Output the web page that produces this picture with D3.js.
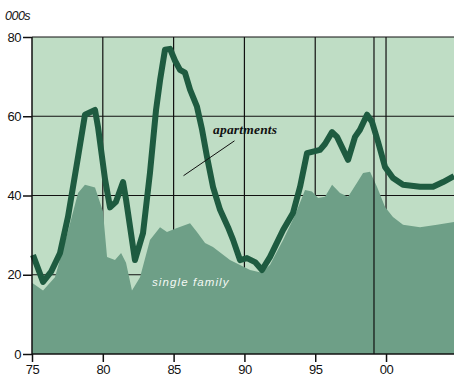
<!DOCTYPE html>
<html>
<head>
<meta charset="utf-8">
<script src="https://cdn.jsdelivr.net/npm/d3@7"></script>
<style>
body { margin: 0; background: #fff; }
text { font-family: "Liberation Sans", Arial, sans-serif; }
</style>
</head>
<body>
<div id="chart"></div>
<script>
var w = 454;
var h = 381;

// years as decimals (75 = 1975, 100 = 2000)
var aptYears = [75.07, 75.78, 76.34, 76.98, 77.54, 78.25, 78.74, 79.45, 79.66, 80.16,
    80.51, 80.93, 81.43, 81.64, 82.27, 82.84, 83.33, 83.76, 84.04, 84.39,
    84.75, 85.1, 85.45, 85.8, 86.16, 86.65, 87.01, 87.36, 87.78, 88.28,
    88.84, 89.2, 89.69, 90.18, 90.75, 91.24, 91.81, 92.73, 93.43, 93.93,
    94.42, 94.77, 95.34, 95.69, 96.19, 96.54, 97.32, 97.81, 98.16, 98.66,
    99.01, 99.44, 99.93, 100.49, 101.2, 102.4, 103.32, 104.03, 104.8];
var apartments = [25, 18.2, 20.7, 25.5, 34.6, 49.7, 60.4, 61.6, 57.3, 44,
    37, 38.4, 43.4, 39, 23.7, 30.5, 45.7, 61.6, 69, 76.8,
    77, 74, 71.7, 71, 66.7, 62.4, 56.6, 49.7, 42.2, 36.4,
    32, 28.8, 23.7, 24.2, 23.2, 21.2, 24.5, 31.3, 35.6, 42.2,
    50.7, 51, 51.5, 53, 56, 54.8, 49, 54.8, 56.6, 60.4,
    58.6, 53.5, 47.2, 44.4, 42.7, 42.2, 42.2, 43.4, 44.9];

var sfYears = [75, 75.78, 76.62, 77.54, 78.25, 78.74, 79.45, 80.01, 80.3, 80.86,
    81.29, 81.64, 82.06, 82.63, 83.33, 84.04, 84.53, 85.24, 86.16, 86.65,
    87.22, 87.78, 88.98, 90.4, 91.24, 91.81, 92.73, 93.57, 94.28, 94.77,
    95.2, 95.69, 96.19, 96.75, 97.32, 97.95, 98.38, 98.87, 99.36, 99.93,
    100.49, 101.2, 102.4, 103.6, 104.8];
var singleFamily = [18, 16, 19.4, 31, 40.6, 42.7, 42, 36, 24.5, 23.7,
    25.5, 23, 16, 19.4, 28.8, 32, 30.8, 31.8, 33, 30.8,
    28, 27, 23.7, 21.2, 20.5, 22.5, 28.8, 35, 41.4, 41,
    39.4, 39.7, 42.7, 40.6, 39.7, 43.2, 45.7, 46, 42.2, 37.1,
    34.6, 32.6, 32, 32.6, 33.3];

var xTicks = [75, 80, 85, 90, 95, 100];
var xTickLabels = ["75", "80", "85", "90", "95", "00"];
var yTicks = [0, 20, 40, 60, 80];

var x = d3.scaleLinear().domain([75, 104.8]).range([32, 454]);
var y = d3.scaleLinear().domain([0, 80]).range([354, 37]);

var svg = d3.select("#chart")
    .append("svg")
    .attr("width", w)
    .attr("height", h);

// plot background
svg.append("rect")
    .attr("x", x(75))
    .attr("y", y(80))
    .attr("width", x(104.8) - x(75))
    .attr("height", y(0) - y(80))
    .attr("fill", "#bfddc5");

// gridlines (behind the area)
svg.selectAll("line.hgrid")
    .data(yTicks.slice(1))
    .enter()
    .append("line")
    .attr("x1", x(75))
    .attr("x2", x(104.8))
    .attr("y1", function(d) { return y(d); })
    .attr("y2", function(d) { return y(d); })
    .attr("stroke", "#111")
    .attr("stroke-width", 1.2);

svg.selectAll("line.vgrid")
    .data(xTicks.slice(1))
    .enter()
    .append("line")
    .attr("x1", function(d) { return x(d); })
    .attr("x2", function(d) { return x(d); })
    .attr("y1", y(80))
    .attr("y2", y(0))
    .attr("stroke", "#111")
    .attr("stroke-width", 1.2);

// single family area
var area = d3.area()
    .x(function(d) { return x(d[0]); })
    .y0(y(0))
    .y1(function(d) { return y(d[1]); });

svg.append("path")
    .datum(d3.zip(sfYears, singleFamily))
    .attr("fill", "#6e9f87")
    .attr("d", area);

// odd vertical rule on top of the area
svg.append("line")
    .attr("x1", x(99.15))
    .attr("x2", x(99.15))
    .attr("y1", y(80))
    .attr("y2", y(0))
    .attr("stroke", "#111")
    .attr("stroke-width", 1.2);

// apartments line
var line = d3.line()
    .x(function(d) { return x(d[0]); })
    .y(function(d) { return y(d[1]); });

svg.append("path")
    .datum(d3.zip(aptYears, apartments))
    .attr("fill", "none")
    .attr("stroke", "#1e5b40")
    .attr("stroke-width", 6)
    .attr("stroke-linejoin", "round")
    .attr("d", line);

// axes
var yAxis = d3.axisLeft(y).tickValues(yTicks).tickSize(9).tickPadding(2);
var gy = svg.append("g")
    .attr("transform", "translate(" + x(75) + ",0)")
    .call(yAxis);

var xAxis = d3.axisBottom(x).tickValues(xTicks).tickSize(8).tickPadding(3)
    .tickFormat(function(d, i) { return xTickLabels[i]; });
var gx = svg.append("g")
    .attr("transform", "translate(0," + y(0) + ")")
    .call(xAxis);

[gx, gy].forEach(function(g) {
    g.select(".domain").attr("stroke", "#111").attr("stroke-width", 1.5);
    g.selectAll(".tick line").attr("stroke", "#111").attr("stroke-width", 1.5);
    g.selectAll(".tick text")
        .attr("fill", "#111")
        .style("font-size", "13px")
        .style("letter-spacing", "-0.5px");
});
gx.select(".domain").attr("d", "M" + x(75) + ",0H" + x(104.8));
gy.select(".domain").attr("d", "M0," + y(80) + "V" + y(0));

// unit label
svg.append("text")
    .attr("x", 5)
    .attr("y", 20)
    .style("font-size", "12.5px")
    .style("font-style", "italic")
    .style("letter-spacing", "-0.5px")
    .attr("fill", "#111")
    .text("000s");

// labels
svg.append("line")
    .attr("x1", x(85.7))
    .attr("y1", y(45))
    .attr("x2", x(89.3))
    .attr("y2", y(53.8))
    .attr("stroke", "#111")
    .attr("stroke-width", 1);

svg.append("text")
    .attr("x", 213)
    .attr("y", 134)
    .style("font-family", "'Liberation Serif', serif")
    .style("font-size", "13.5px")
    .style("font-weight", "bold")
    .style("font-style", "italic")
    .style("letter-spacing", "0.2px")
    .attr("fill", "#111")
    .text("apartments");

svg.append("text")
    .attr("x", 152)
    .attr("y", 286)
    .style("font-size", "11.5px")
    .style("font-style", "italic")
    .style("letter-spacing", "1.1px")
    .attr("fill", "#f4f8f4")
    .text("single family");
</script>
</body>
</html>
